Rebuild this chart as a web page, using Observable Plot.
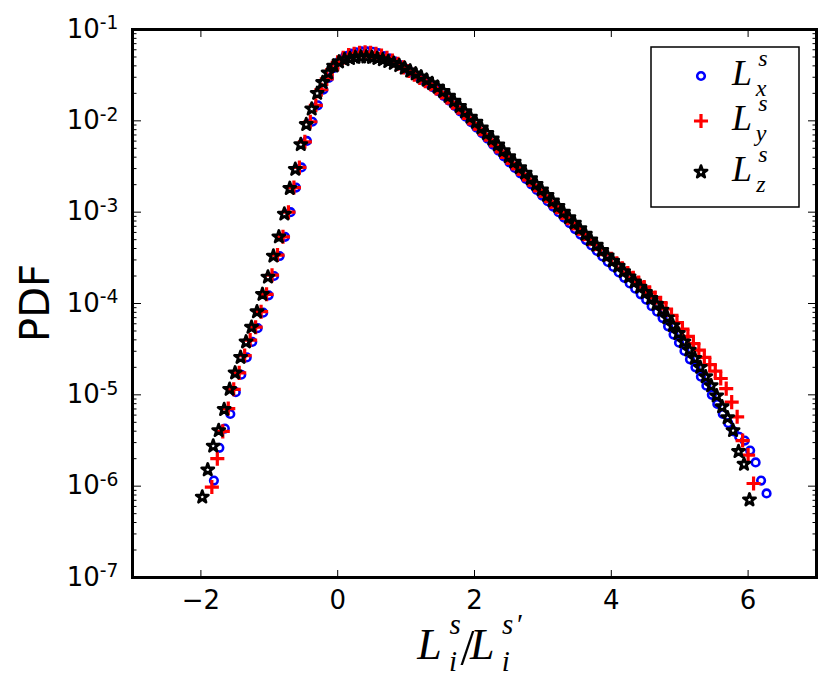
<!DOCTYPE html>
<html><head><meta charset="utf-8">
<script src="https://cdn.jsdelivr.net/npm/d3@7"></script>
<script src="https://cdn.jsdelivr.net/npm/@observablehq/plot@0.6"></script>
<style>body{margin:0;background:#fff;} #chart{width:830px;height:683px;}</style>
</head><body><div id="chart"></div>
<script>
// L_x^s (blue circles)
const xBlue = [-1.81,-1.73,-1.65,-1.57,-1.49,-1.41,-1.33,-1.25,-1.17,-1.09,-1.01,-0.93,-0.85,-0.77,-0.69,-0.61,-0.53,-0.45,-0.37,-0.29,-0.21,-0.13,-0.05,0.03,0.11,0.19,0.27,0.35,0.43,0.51,0.59,0.67,0.75,0.83,0.91,0.99,1.07,1.15,1.23,1.31,1.39,1.47,1.55,1.63,1.71,1.79,1.87,1.95,2.03,2.11,2.19,2.27,2.35,2.43,2.51,2.59,2.67,2.75,2.83,2.91,2.99,3.07,3.15,3.23,3.31,3.39,3.47,3.55,3.63,3.71,3.79,3.87,3.95,4.03,4.11,4.19,4.27,4.35,4.43,4.51,4.59,4.67,4.75,4.83,4.91,4.99,5.07,5.15,5.23,5.31,5.39,5.47,5.55,5.63,5.71,5.79,5.87,5.95,6.03,6.11,6.19,6.27];
const yBlue = [1.15e-6,2.63e-6,4.27e-6,6.17e-6,1.07e-5,1.66e-5,2.57e-5,3.80e-5,5.37e-5,7.94e-5,
1.23e-4,2.00e-4,3.31e-4,5.37e-4,1.00e-3,1.86e-3,3.09e-3,6.03e-3,9.77e-3,1.48e-2,
2.19e-2,2.95e-2,3.80e-2,4.57e-2,5.13e-2,5.43e-2,5.62e-2,5.75e-2,5.75e-2,5.69e-2,
5.50e-2,5.13e-2,4.84e-2,4.47e-2,4.07e-2,3.72e-2,3.39e-2,3.09e-2,2.82e-2,2.57e-2,
2.34e-2,2.11e-2,1.88e-2,1.66e-2,1.46e-2,1.27e-2,1.11e-2,9.66e-3,8.41e-3,7.33e-3,
6.38e-3,5.50e-3,4.73e-3,4.07e-3,3.51e-3,3.05e-3,2.66e-3,2.32e-3,2.02e-3,1.75e-3,
1.52e-3,1.32e-3,1.15e-3,1.00e-3,8.71e-4,7.59e-4,6.53e-4,5.69e-4,4.95e-4,4.32e-4,
3.76e-4,3.27e-4,2.85e-4,2.51e-4,2.19e-4,1.91e-4,1.66e-4,1.45e-4,1.26e-4,1.10e-4,
9.33e-5,8.13e-5,6.92e-5,5.62e-5,4.57e-5,3.72e-5,3.02e-5,2.45e-5,2.00e-5,1.58e-5,
1.26e-5,1.00e-5,7.94e-6,6.17e-6,4.90e-6,3.98e-6,3.47e-6,3.16e-6,2.45e-6,1.82e-6,1.15e-6,8.32e-7];

// L_y^s (red pluses)
const xRed = [-1.84,-1.76,-1.68,-1.60,-1.52,-1.44,-1.36,-1.28,-1.20,-1.12,-1.04,-0.96,-0.88,-0.80,-0.72,-0.64,-0.56,-0.48,-0.40,-0.32,-0.24,-0.16,-0.08,0.00,0.08,0.16,0.24,0.32,0.40,0.48,0.56,0.64,0.72,0.80,0.88,0.96,1.04,1.12,1.20,1.28,1.36,1.44,1.52,1.60,1.68,1.76,1.84,1.92,2.00,2.08,2.16,2.24,2.32,2.40,2.48,2.56,2.64,2.72,2.80,2.88,2.96,3.04,3.12,3.20,3.28,3.36,3.44,3.52,3.60,3.68,3.76,3.84,3.92,4.00,4.08,4.16,4.24,4.32,4.40,4.48,4.56,4.64,4.72,4.80,4.88,4.96,5.04,5.12,5.20,5.28,5.36,5.44,5.52,5.60,5.68,5.76,5.84,5.92,6.00,6.08];
const yRed = [9.77e-7,2.00e-6,3.98e-6,7.08e-6,1.15e-5,1.74e-5,2.69e-5,3.98e-5,5.50e-5,8.13e-5,
1.26e-4,2.04e-4,3.39e-4,5.37e-4,1.00e-3,1.86e-3,3.09e-3,5.89e-3,9.77e-3,1.48e-2,
2.19e-2,2.88e-2,3.63e-2,4.37e-2,4.90e-2,5.25e-2,5.43e-2,5.56e-2,5.62e-2,5.56e-2,
5.43e-2,5.19e-2,4.90e-2,4.57e-2,4.22e-2,3.85e-2,3.51e-2,3.20e-2,2.95e-2,2.72e-2,
2.51e-2,2.26e-2,2.04e-2,1.80e-2,1.58e-2,1.40e-2,1.22e-2,1.07e-2,9.33e-3,8.13e-3,
7.08e-3,6.17e-3,5.31e-3,4.57e-3,3.98e-3,3.43e-3,2.99e-3,2.60e-3,2.26e-3,1.97e-3,
1.72e-3,1.50e-3,1.30e-3,1.14e-3,9.89e-4,8.61e-4,7.59e-4,6.61e-4,5.75e-4,5.07e-4,
4.47e-4,3.94e-4,3.47e-4,3.09e-4,2.75e-4,2.43e-4,2.16e-4,1.91e-4,1.70e-4,1.51e-4,
1.32e-4,1.16e-4,1.02e-4,8.71e-5,7.41e-5,6.17e-5,5.25e-5,4.37e-5,3.63e-5,3.09e-5,
2.57e-5,2.14e-5,1.82e-5,1.51e-5,1.17e-5,8.32e-6,5.75e-6,3.16e-6,2.19e-6,1.07e-6];

// L_z^s (black stars)
const xBlack = [-1.98,-1.90,-1.82,-1.74,-1.66,-1.58,-1.50,-1.42,-1.34,-1.26,-1.18,-1.10,-1.02,-0.94,-0.86,-0.78,-0.70,-0.62,-0.54,-0.46,-0.38,-0.30,-0.22,-0.14,-0.06,0.02,0.10,0.18,0.26,0.34,0.42,0.50,0.58,0.66,0.74,0.82,0.90,0.98,1.06,1.14,1.22,1.30,1.38,1.46,1.54,1.62,1.70,1.78,1.86,1.94,2.02,2.10,2.18,2.26,2.34,2.42,2.50,2.58,2.66,2.74,2.82,2.90,2.98,3.06,3.14,3.22,3.30,3.38,3.46,3.54,3.62,3.70,3.78,3.86,3.94,4.02,4.10,4.18,4.26,4.34,4.42,4.50,4.58,4.66,4.74,4.82,4.90,4.98,5.06,5.14,5.22,5.30,5.38,5.46,5.54,5.62,5.70,5.78,5.86,5.94,6.02];
const yBlack = [7.6e-7,1.51e-6,2.75e-6,4.07e-6,6.92e-6,1.15e-5,1.74e-5,2.57e-5,3.80e-5,5.50e-5,
8.13e-5,1.26e-4,1.95e-4,3.31e-4,5.37e-4,9.55e-4,1.82e-3,2.95e-3,5.50e-3,9.12e-3,
1.35e-2,2.00e-2,2.63e-2,3.35e-2,3.98e-2,4.42e-2,4.68e-2,4.81e-2,4.95e-2,5.01e-2,
5.01e-2,4.95e-2,4.83e-2,4.68e-2,4.47e-2,4.27e-2,4.03e-2,3.78e-2,3.52e-2,3.27e-2,
3.03e-2,2.79e-2,2.56e-2,2.34e-2,2.10e-2,1.86e-2,1.64e-2,1.44e-2,1.26e-2,1.10e-2,
9.66e-3,8.39e-3,7.29e-3,6.34e-3,5.47e-3,4.72e-3,4.07e-3,3.54e-3,3.08e-3,2.68e-3,
2.33e-3,2.02e-3,1.76e-3,1.53e-3,1.33e-3,1.16e-3,1.00e-3,8.73e-4,7.59e-4,6.61e-4,
5.74e-4,4.99e-4,4.35e-4,3.81e-4,3.33e-4,2.92e-4,2.56e-4,2.24e-4,1.96e-4,1.72e-4,
1.51e-4,1.32e-4,1.14e-4,9.82e-5,8.47e-5,6.98e-5,5.73e-5,4.70e-5,3.80e-5,3.09e-5,
2.51e-5,2.00e-5,1.58e-5,1.26e-5,9.77e-6,7.41e-6,5.62e-6,4.07e-6,2.40e-6,1.74e-6,7.08e-7];

const xTicks = [-2, 0, 2, 4, 6];
const yTicks = [1e-1, 1e-2, 1e-3, 1e-4, 1e-5, 1e-6, 1e-7];
const yMinor = yTicks.slice(1).flatMap(d => [2,3,4,5,6,7,8,9].map(m => m * d));
const seriesNames = ["x", "y", "z"];

if (xBlue.length !== yBlue.length || xRed.length !== yRed.length || xBlack.length !== yBlack.length)
  throw new Error("length mismatch");

const toRows = (xs, ys) => xs.map((x, i) => ({x, y: ys[i]}));
const blue = toRows(xBlue, yBlue), red = toRows(xRed, yRed), black = toRows(xBlack, yBlack);

const W = 830, H = 683, mL = 132, mR = 14, mT = 29, mB = 106;
const st = {
  circle: {r: 3.8, sw: 2.6, color: "#0000ff"},
  plus: {r: 4.6, sw: 3.2, color: "#ff0000"},
  star: {r: 3.8, sw: 2.8, color: "#000000"}
};
const blank = () => "";

const plot = Plot.plot({
  width: W, height: H,
  marginLeft: mL, marginRight: mR, marginTop: mT, marginBottom: mB,
  style: {fontFamily: "'DejaVu Sans', sans-serif", fontSize: "26px", background: "white", color: "black"},
  x: {domain: [-3, 7]},
  y: {type: "log", domain: [1e-7, 1e-1]},
  marks: [
    Plot.dot(blue, {x: "x", y: "y", r: st.circle.r, stroke: st.circle.color, strokeWidth: st.circle.sw, fill: "none"}),
    Plot.dot(red, {x: "x", y: "y", r: st.plus.r, symbol: "plus", stroke: st.plus.color, strokeWidth: st.plus.sw}),
    Plot.dot(black, {x: "x", y: "y", r: st.star.r, symbol: "star", stroke: st.star.color, strokeWidth: st.star.sw, fill: "none", strokeLinejoin: "round"}),
    Plot.axisX(xTicks, {anchor: "bottom", tickSize: 0, tickPadding: 13, label: null}),
    Plot.axisX(xTicks, {anchor: "bottom", tickSize: -7, tickFormat: blank, label: null}),
    Plot.axisX(xTicks, {anchor: "top", tickSize: -7, tickFormat: blank, label: null}),
    Plot.axisY(yTicks, {anchor: "left", tickSize: 0, tickPadding: 14, label: null,
      tickFormat: d => "10^" + Math.round(Math.log10(d))}),
    Plot.axisY(yTicks, {anchor: "left", tickSize: -9, tickFormat: blank, label: null}),
    Plot.axisY(yTicks, {anchor: "right", tickSize: -9, tickFormat: blank, label: null}),
    Plot.axisY(yMinor, {anchor: "left", tickSize: -4.5, tickFormat: blank, label: null}),
    Plot.axisY(yMinor, {anchor: "right", tickSize: -4.5, tickFormat: blank, label: null}),
    Plot.frame({stroke: "black", strokeWidth: 3})
  ]
});
document.getElementById("chart").appendChild(plot);

const svg = d3.select(plot);
// superscript exponents on y tick labels
svg.selectAll('g[aria-label="y-axis tick label"] text').each(function() {
  const t = this.textContent;
  if (!t.includes("^")) return;
  const [base, exp] = t.split("^");
  const el = d3.select(this);
  el.text(null);
  el.append("tspan").text(base);
  el.append("tspan").attr("dy", "-0.45em").attr("font-size", "0.72em").text(exp);
});

// y label
svg.append("text").attr("transform", `translate(38,${(mT + H - mB) / 2}) rotate(-90)`)
  .attr("text-anchor", "middle").attr("dominant-baseline", "middle")
  .style("font-family", "'DejaVu Sans', sans-serif").style("font-size", "40px").text("PDF");

// math text helpers
const mathFont = "'Liberation Serif', 'DejaVu Serif', serif";
function txt(g, x, y, s, size, italic = true) {
  const t = g.append("text").attr("x", x).attr("y", y)
    .style("font-family", mathFont).style("font-style", italic ? "italic" : "normal")
    .style("font-size", size + "px").text(s);
  return {t, w: t.node().getComputedTextLength()};
}
// draws L with stacked sub/sup; returns end x
function drawL(g, x, base, sizeL, sizeS, sub, sup, subDy, supDy) {
  const L = txt(g, x, base, "L", sizeL);
  const xs = x + L.w;
  const a = txt(g, xs - 1, base + subDy, sub, sizeS);
  const b = txt(g, xs + 1, base + supDy, sup, sizeS);
  return {end: xs + Math.max(a.w - 1, b.w + 1), supEnd: xs + 1 + b.w};
}

// x label
const gx = svg.append("g");
const base = 659;
let p = drawL(gx, 0, base, 44, 29, "i", "s", 12, -25);
const sl = txt(gx, p.end + 1, base + 5, "/", 50, false);
let q = drawL(gx, p.end + 1 + sl.w + 1, base, 44, 29, "i", "s", 12, -25);
const pr = txt(gx, q.supEnd + 1, base - 25, "′", 29, false);
const totalW = q.supEnd + 1 + pr.w;
const cx = (mL + W - mR) / 2;
gx.attr("transform", `translate(${cx - totalW / 2 + 4},0)`);

// legend
const lg = svg.append("g");
lg.append("rect").attr("x", 651).attr("y", 47).attr("width", 148).attr("height", 160)
  .attr("fill", "white").attr("stroke", "black").attr("stroke-width", 1.5);
const rows = [
  {y: 76, sym: d3.symbolCircle, s: st.circle},
  {y: 121, sym: d3.symbolPlus, s: st.plus},
  {y: 172, sym: d3.symbolStar, s: st.star}
];
rows.forEach((row, i) => {
  lg.append("path").attr("transform", `translate(701,${row.y})`)
    .attr("d", d3.symbol(row.sym, Math.PI * row.s.r * row.s.r)())
    .attr("fill", "none").attr("stroke", row.s.color).attr("stroke-width", row.s.sw)
    .attr("stroke-linejoin", "round");
  drawL(lg, 742, row.y + 9, 36, 24, seriesNames[i], "s", 11, -19);
});
</script>
</body></html>
